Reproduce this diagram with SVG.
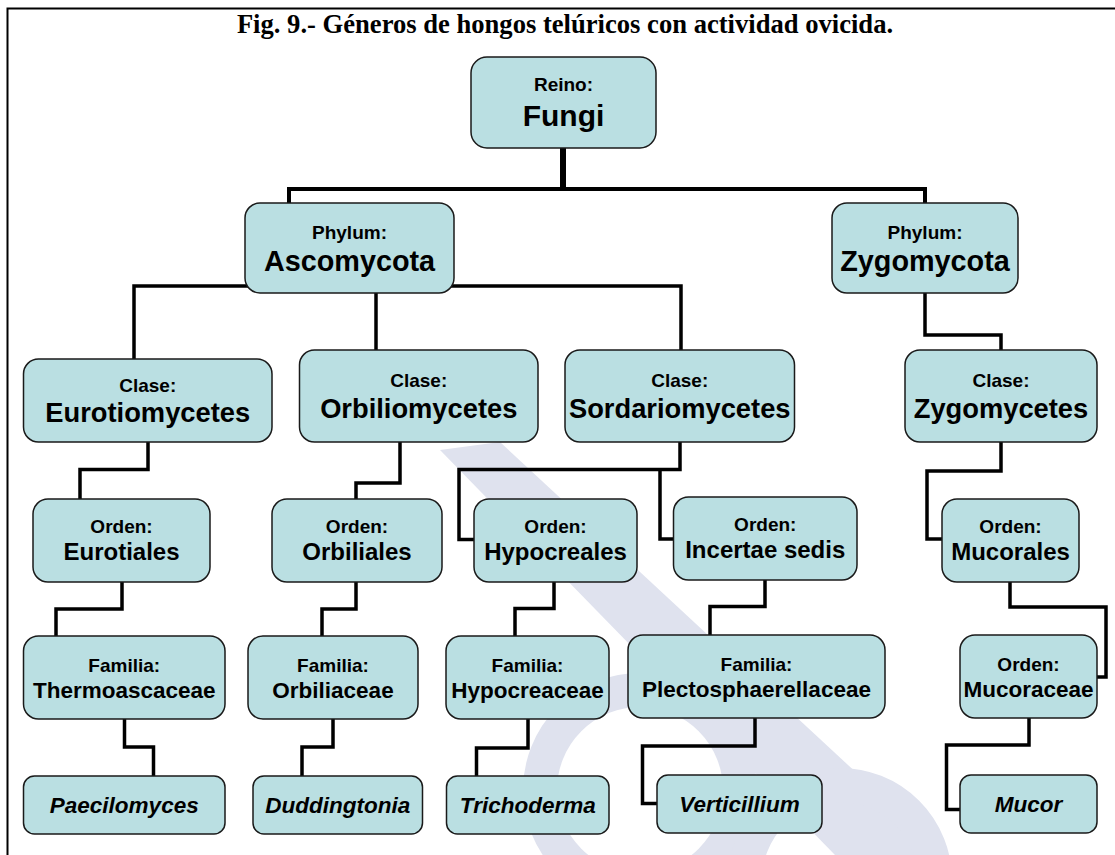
<svg xmlns="http://www.w3.org/2000/svg" width="1115" height="855" viewBox="0 0 1115 855">
<style>
.bg{fill:#ffffff}
.wm{fill:#dfe2ee;stroke:none}
.wmr{fill:none;stroke:#dfe2ee;stroke-width:34}
.frame{fill:none;stroke:#000;stroke-width:2}
.box{fill:#badfe2;stroke:#1a1a1a;stroke-width:1.5}
.t{font-family:"Liberation Sans",Arial,sans-serif;font-weight:bold;text-anchor:middle;fill:#000}
.s{font-size:19px}
.p{font-size:28.8px}
.c{font-size:27.3px}
.o{font-size:24px}
.f{font-size:22.5px}
.g{font-size:22.5px;font-style:italic}
.title{font-family:"Liberation Serif","Times New Roman",serif;font-weight:bold;font-size:26.6px;text-anchor:middle;fill:#000}
.conn{fill:none;stroke:#000;stroke-width:3.5;stroke-linejoin:miter;stroke-linecap:butt}
</style>
<rect class="bg" x="0" y="0" width="1115" height="855"/>
<g id="watermark">
<polygon class="wm" points="440,450 500,442 945,855 835,855"/>
<circle class="wmr" cx="640" cy="790" r="100"/>
<circle class="wmr" cx="840" cy="880" r="95"/>
</g>
<path class="frame" d="M7.5,855 V8.5 H1115"/>
<text class="title" x="565" y="32.5">Fig. 9.- Géneros de hongos telúricos con actividad ovicida.</text>
<g id="connectors">
<path class="conn" d="M563,148 V189" style="stroke-width:6"/>
<path class="conn" d="M289,203 V189 H925 V203" style="stroke-width:4"/>
<path class="conn" d="M134,359 V286 H681 V350"/>
<path class="conn" d="M376,293 V350"/>
<path class="conn" d="M925,293 V335 H1001 V350"/>
<path class="conn" d="M148,442 V469.5 H80 V499"/>
<path class="conn" d="M400,442 V483 H356 V499"/>
<path class="conn" d="M680,442 V469.5 H459 V539.5 H474"/>
<path class="conn" d="M660,469.5 V539 H673.5"/>
<path class="conn" d="M1001,442 V471 H927 V539 H942"/>
<path class="conn" d="M122,582 V609 H56 V636"/>
<path class="conn" d="M356,582 V609 H322 V636"/>
<path class="conn" d="M554,582 V608.5 H515 V636"/>
<path class="conn" d="M765,580 V606.5 H710 V635"/>
<path class="conn" d="M1010,582 V607 H1106 V677 H1097"/>
<path class="conn" d="M124.5,719 V747 H153.5 V776"/>
<path class="conn" d="M333,719 V747 H302 V776"/>
<path class="conn" d="M528,719 V748 H476.5 V776"/>
<path class="conn" d="M755,717.5 V746 H642.5 V803.5 H657"/>
<path class="conn" d="M1029,718 V745 H946.5 V809.5 H960"/>
</g>
<g id="fungi"><rect class="box" x="471" y="57" width="185" height="91" rx="16"/><text class="t s" x="563.5" y="91">Reino:</text><text class="t" style="font-size:30px" x="563.5" y="126">Fungi</text></g>
<g id="ascomycota"><rect class="box" x="245" y="203" width="209" height="90" rx="15"/><text class="t s" x="349.5" y="239">Phylum:</text><text class="t p" x="349.5" y="271">Ascomycota</text></g>
<g id="zygomycota"><rect class="box" x="832" y="203" width="186" height="90" rx="15"/><text class="t s" x="925" y="239">Phylum:</text><text class="t p" x="925" y="271">Zygomycota</text></g>
<g id="eurotiomycetes"><rect class="box" x="23.5" y="359" width="248.5" height="83" rx="15"/><text class="t s" x="147.75" y="392">Clase:</text><text class="t c" x="147.75" y="422">Eurotiomycetes</text></g>
<g id="orbiliomycetes"><rect class="box" x="299.5" y="350" width="238.5" height="92" rx="15"/><text class="t s" x="418.75" y="387">Clase:</text><text class="t c" x="418.75" y="418">Orbiliomycetes</text></g>
<g id="sordariomycetes"><rect class="box" x="565" y="350" width="229.5" height="92" rx="15"/><text class="t s" x="679.75" y="387">Clase:</text><text class="t c" x="679.75" y="418">Sordariomycetes</text></g>
<g id="zygomycetes"><rect class="box" x="905" y="350" width="192" height="92" rx="15"/><text class="t s" x="1001" y="387">Clase:</text><text class="t c" x="1001" y="418">Zygomycetes</text></g>
<g id="eurotiales"><rect class="box" x="33" y="499" width="177" height="83" rx="15"/><text class="t s" x="121.5" y="532.5">Orden:</text><text class="t o" x="121.5" y="560">Eurotiales</text></g>
<g id="orbiliales"><rect class="box" x="272" y="499" width="170" height="83" rx="15"/><text class="t s" x="357" y="532.5">Orden:</text><text class="t o" x="357" y="560">Orbiliales</text></g>
<g id="hypocreales"><rect class="box" x="474" y="499" width="163" height="83" rx="15"/><text class="t s" x="555.5" y="532.5">Orden:</text><text class="t o" x="555.5" y="560">Hypocreales</text></g>
<g id="incertae-sedis"><rect class="box" x="673.5" y="497" width="183.5" height="83" rx="15"/><text class="t s" x="765.25" y="530.5">Orden:</text><text class="t o" x="765.25" y="558">Incertae sedis</text></g>
<g id="mucorales"><rect class="box" x="942" y="499" width="137" height="83" rx="15"/><text class="t s" x="1010.5" y="532.5">Orden:</text><text class="t o" x="1010.5" y="560">Mucorales</text></g>
<g id="thermoascaceae"><rect class="box" x="23.5" y="636" width="201.5" height="83" rx="15"/><text class="t s" x="124.25" y="672">Familia:</text><text class="t f" x="124.25" y="697.5">Thermoascaceae</text></g>
<g id="orbiliaceae"><rect class="box" x="248" y="636" width="170" height="83" rx="15"/><text class="t s" x="333" y="672">Familia:</text><text class="t f" x="333" y="697.5">Orbiliaceae</text></g>
<g id="hypocreaceae"><rect class="box" x="446" y="636" width="163" height="83" rx="15"/><text class="t s" x="527.5" y="672">Familia:</text><text class="t f" x="527.5" y="697.5">Hypocreaceae</text></g>
<g id="plectosphaerellaceae"><rect class="box" x="628" y="635" width="257" height="83" rx="15"/><text class="t s" x="756.5" y="671">Familia:</text><text class="t f" x="756.5" y="696.5">Plectosphaerellaceae</text></g>
<g id="mucoraceae"><rect class="box" x="960" y="635" width="137" height="83" rx="15"/><text class="t s" x="1028.5" y="671">Orden:</text><text class="t f" x="1028.5" y="696.5">Mucoraceae</text></g>
<g id="paecilomyces"><rect class="box" x="23.5" y="776" width="201.5" height="58" rx="11"/><text class="t g" x="124.25" y="812.5">Paecilomyces</text></g>
<g id="duddingtonia"><rect class="box" x="253" y="776" width="169.5" height="58" rx="11"/><text class="t g" x="337.75" y="812.5">Duddingtonia</text></g>
<g id="trichoderma"><rect class="box" x="446.5" y="776" width="162.5" height="58" rx="11"/><text class="t g" x="527.75" y="812.5">Trichoderma</text></g>
<g id="verticillium"><rect class="box" x="657" y="775" width="165" height="58" rx="11"/><text class="t g" x="739.5" y="811.5">Verticillium</text></g>
<g id="mucor"><rect class="box" x="960" y="775" width="137" height="58" rx="11"/><text class="t g" x="1028.5" y="811.5">Mucor</text></g>
</svg>
